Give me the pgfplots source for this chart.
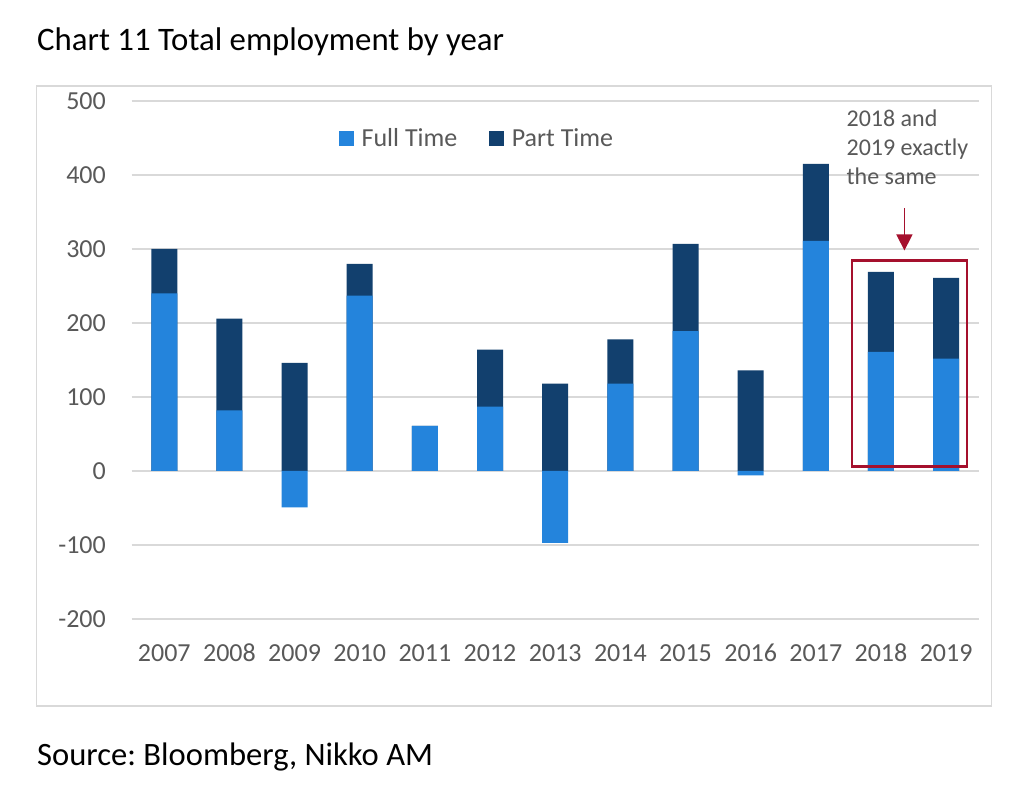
\documentclass[border=0pt]{standalone}
\usepackage{fontspec}
\setmainfont{Carlito}
\usepackage{pgfplots}
\usepackage{pgfplotstable}
\pgfplotsset{compat=1.18}
\usetikzlibrary{arrows.meta}
\frenchspacing
\definecolor{ftblue}{RGB}{36,132,220}
\definecolor{ptblue}{RGB}{18,64,110}
\definecolor{gridgray}{RGB}{217,217,217}
\definecolor{txtgray}{RGB}{89,89,89}
\definecolor{boxred}{RGB}{165,16,45}

% idx year fulltime parttime top-of-positive-stack
\pgfplotstableread{
idx year ft pt top
0 2007 240 60 300
1 2008 82 124 206
2 2009 -49 146 146
3 2010 237 43 280
4 2011 61 0 61
5 2012 87 77 164
6 2013 -97 118 118
7 2014 118 60 178
8 2015 189 118 307
9 2016 -6 136 136
10 2017 311 104 415
11 2018 161 108 269
12 2019 152 109 261
}\datatable

\begin{document}
\begin{tikzpicture}[x=1bp,y=1bp]
\useasboundingbox (0,0) rectangle (1024,797);
\fill[white] (0,0) rectangle (1024,797);
% outer frame
\draw[gridgray, line width=1.5bp] (36.7,91) rectangle (991.7,711);
% title and source
\node[anchor=base west, inner sep=0, font=\fontsize{32.8bp}{39bp}\selectfont] at (37,746) {Chart 11 Total employment by year};
\node[anchor=base west, inner sep=0, font=\fontsize{32.6bp}{39bp}\selectfont] at (37,31) {Source: Bloomberg, Nikko AM};

\begin{axis}[
  at={(131.7bp,178bp)}, anchor=south west,
  scale only axis, width=847bp, height=518bp,
  xmin=-0.5, xmax=12.5, ymin=-200, ymax=500,
  clip=false,
  axis line style={draw=none},
  major tick length=0pt,
  xtick={0,...,12},
  xticklabels={2007,2008,2009,2010,2011,2012,2013,2014,2015,2016,2017,2018,2019},
  ytick={-200,-100,0,100,200,300,400,500},
  yticklabels={-200,-100,0,100,200,300,400,500},
  ymajorgrids,
  grid style={gridgray, line width=1.3bp},
  tick label style={font=\fontsize{26bp}{31bp}\selectfont, text=txtgray, inner sep=0pt},
  yticklabel style={anchor=east, xshift=-25.7bp},
  xticklabel style={anchor=north, yshift=-25bp},
  ybar, bar width=26bp, bar shift=0pt,
  legend style={at={(0.2448,0.9286)}, anchor=west, draw=none, fill=none, inner sep=0pt,
    font=\fontsize{26bp}{31bp}\selectfont, text=txtgray, legend columns=2,
    nodes={inner sep=0pt},
    /tikz/every odd column/.append style={column sep=8bp},
    /tikz/every even column/.append style={column sep=32bp}},
  legend cell align=left,
]
\addplot[fill=ptblue, draw=none, forget plot] table[x=idx, y=top] {\datatable};
\addplot[fill=ftblue, draw=none, forget plot] table[x=idx, y=ft] {\datatable};
\addlegendimage{legend image code/.code={\fill[ftblue] (0bp,-7bp) rectangle (14bp,7bp);}}
\addlegendentry{Full Time}
\addlegendimage{legend image code/.code={\fill[ptblue] (0bp,-7bp) rectangle (14bp,7bp);}}
\addlegendentry{Part Time}
% annotation
\draw[boxred, line width=2.3bp] (axis cs:10.556,6) rectangle (axis cs:12.32,284.5);
\draw[boxred, line width=1.5bp, -{Triangle[length=16bp, width=16bp]}] (axis cs:11.36,355) -- (axis cs:11.36,298);
\node[anchor=base west, inner sep=0, align=left, text=txtgray,
  font=\fontsize{24bp}{29bp}\selectfont] at (axis cs:10.47,386.8) {2018 and\\2019 exactly\\the same};
\end{axis}
\end{tikzpicture}
\end{document}
